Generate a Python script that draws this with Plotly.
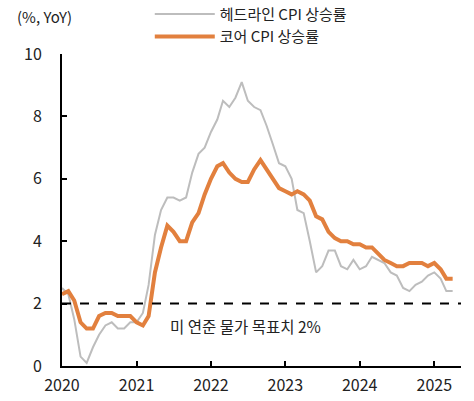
import plotly.graph_objects as go

# 월별 (2020-01 ~ 2025-04)
months = [f"{y}-{m:02d}-01" for y in range(2020, 2026) for m in range(1, 13)][:64]

headline = [2.5, 2.3, 1.5, 0.3, 0.1, 0.6, 1.0, 1.3, 1.4, 1.2, 1.2, 1.4,
            1.4, 1.7, 2.6, 4.2, 5.0, 5.4, 5.4, 5.3, 5.4, 6.2, 6.8, 7.0,
            7.5, 7.9, 8.5, 8.3, 8.6, 9.1, 8.5, 8.3, 8.2, 7.7, 7.1, 6.5,
            6.4, 6.0, 5.0, 4.9, 4.0, 3.0, 3.2, 3.7, 3.7, 3.2, 3.1, 3.4,
            3.1, 3.2, 3.5, 3.4, 3.3, 3.0, 2.9, 2.5, 2.4, 2.6, 2.7, 2.9,
            3.0, 2.8, 2.4, 2.4]

core = [2.3, 2.4, 2.1, 1.4, 1.2, 1.2, 1.6, 1.7, 1.7, 1.6, 1.6, 1.6,
        1.4, 1.3, 1.6, 3.0, 3.8, 4.5, 4.3, 4.0, 4.0, 4.6, 4.9, 5.5,
        6.0, 6.4, 6.5, 6.2, 6.0, 5.9, 5.9, 6.3, 6.6, 6.3, 6.0, 5.7,
        5.6, 5.5, 5.6, 5.5, 5.3, 4.8, 4.7, 4.3, 4.1, 4.0, 4.0, 3.9,
        3.9, 3.8, 3.8, 3.6, 3.4, 3.3, 3.2, 3.2, 3.3, 3.3, 3.3, 3.2,
        3.3, 3.1, 2.8, 2.8]

target = 2.0
year_ticks = ["2020-01-01", "2021-01-01", "2022-01-01", "2023-01-01", "2024-01-01", "2025-01-01"]
year_labels = ["2020", "2021", "2022", "2023", "2024", "2025"]

font_name = "Noto Sans CJK KR"

fig = go.Figure()
fig.add_trace(go.Scatter(x=months, y=headline, mode="lines", name="헤드라인 CPI 상승률",
                         line=dict(color="#BDBDBD", width=2)))
fig.add_trace(go.Scatter(x=months, y=core, mode="lines", name="코어 CPI 상승률",
                         line=dict(color="#E2803E", width=4)))

fig.add_hline(y=target, line=dict(color="black", width=2, dash="dash"))

fig.add_annotation(x="2022-06-20", y=1.28, text="미 연준 물가 목표치 2%", showarrow=False,
                   font=dict(size=15.5, color="#222"))
fig.add_annotation(x=-0.118, y=1.12, xref="paper", yref="paper", text="(%, YoY)",
                   showarrow=False, xanchor="left", yanchor="middle",
                   font=dict(size=15, color="#222"))

fig.update_layout(
    width=474, height=401,
    margin=dict(l=62, r=13, t=54, b=35, autoexpand=False),
    plot_bgcolor="white", paper_bgcolor="white",
    font=dict(family=font_name, size=16, color="#222"),
    showlegend=True,
    legend=dict(x=0.22, y=1.18, xanchor="left", yanchor="top",
                bgcolor="rgba(0,0,0,0)", font=dict(size=15),
                itemwidth=60, tracegroupgap=0),
    xaxis=dict(type="date", range=["2020-01-01", "2025-05-12"],
               tickvals=year_ticks, ticktext=year_labels,
               showgrid=False, zeroline=False,
               showline=True, linecolor="black", linewidth=2,
               ticks="inside", ticklen=5, tickwidth=2, tickcolor="black",
               ticklabelstandoff=4),
    yaxis=dict(range=[0, 10], dtick=2, showgrid=False, zeroline=False,
               showline=True, linecolor="black", linewidth=2,
               ticks="inside", ticklen=5, tickwidth=2, tickcolor="black",
               ticklabelstandoff=15),
)

# drop the browser's default 8px body margin so the figure fills the window
fig.write_html("out.html", config={"displayModeBar": False},
               post_script="document.body.style.margin='0';")
